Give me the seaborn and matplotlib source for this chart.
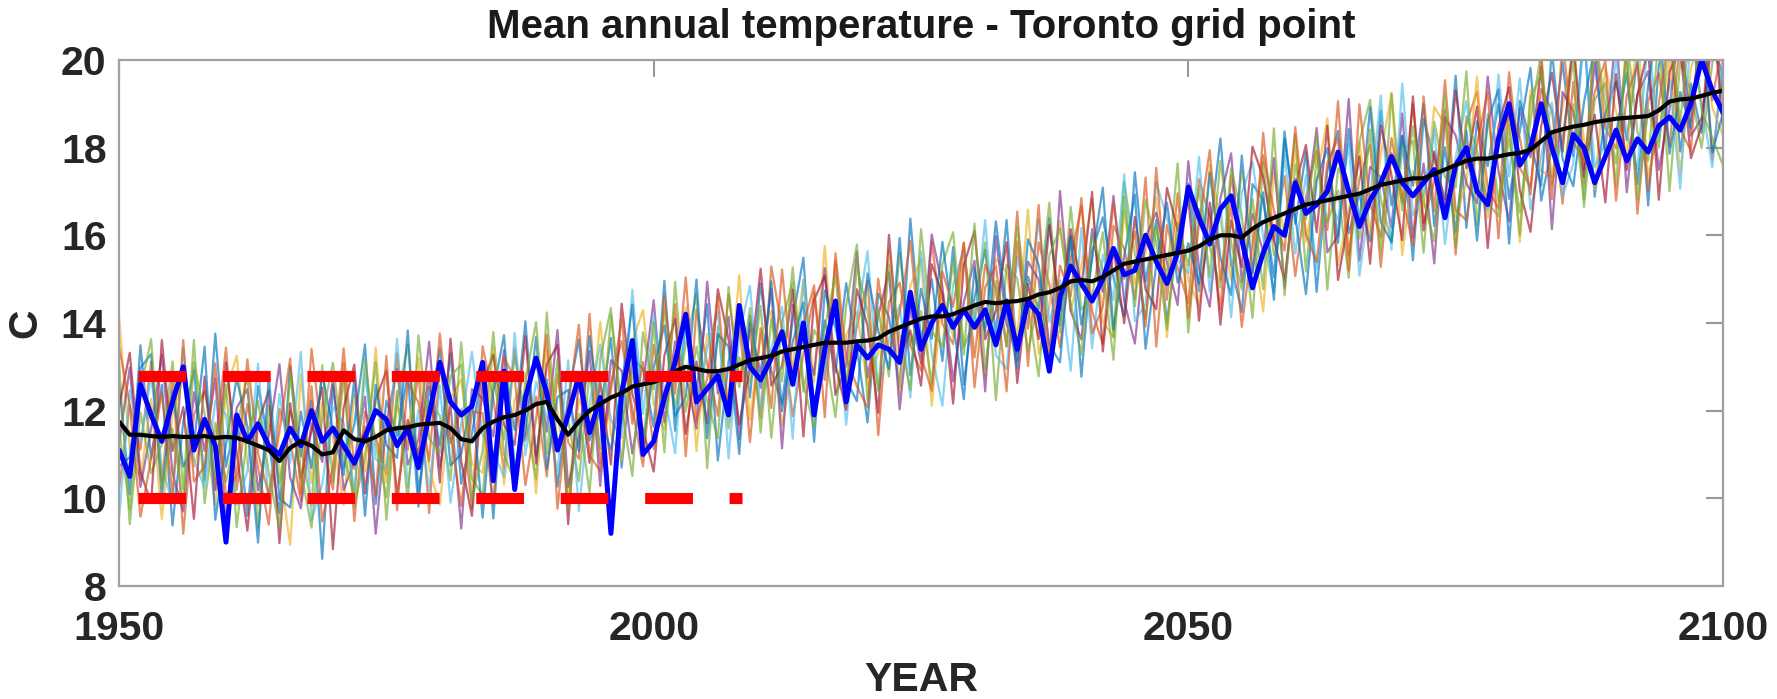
import matplotlib
matplotlib.use('Agg')
import matplotlib.pyplot as plt
import numpy as np
import pandas as pd
import seaborn as sns

years = list(range(1950, 2101))

# ensemble mean (black)
ens_mean = [
    11.75, 11.45, 11.45, 11.42, 11.40, 11.42, 11.40, 11.40, 11.42, 11.38,
    11.40, 11.38, 11.30, 11.20, 11.10, 10.85, 11.15, 11.30, 11.20, 11.00,
    11.05, 11.55, 11.35, 11.30, 11.40, 11.55, 11.60, 11.62, 11.68, 11.70,
    11.72, 11.60, 11.35, 11.30, 11.60, 11.75, 11.85, 11.90, 12.00, 12.15,
    12.20, 11.80, 11.45, 11.75, 12.00, 12.15, 12.30, 12.40, 12.55, 12.60,
    12.65, 12.75, 12.90, 13.00, 12.95, 12.90, 12.90, 12.95, 13.05, 13.15,
    13.20, 13.25, 13.35, 13.40, 13.45, 13.50, 13.55, 13.55, 13.55, 13.58,
    13.60, 13.65, 13.80, 13.90, 14.00, 14.10, 14.15, 14.15, 14.20, 14.30,
    14.40, 14.48, 14.45, 14.48, 14.50, 14.55, 14.65, 14.70, 14.80, 14.95,
    14.98, 14.95, 15.05, 15.20, 15.35, 15.40, 15.45, 15.50, 15.55, 15.60,
    15.65, 15.75, 15.90, 16.00, 16.00, 15.95, 16.15, 16.30, 16.40, 16.50,
    16.60, 16.70, 16.75, 16.80, 16.85, 16.90, 16.95, 17.05, 17.15, 17.20,
    17.25, 17.30, 17.30, 17.40, 17.50, 17.60, 17.70, 17.75, 17.75, 17.80,
    17.85, 17.88, 17.95, 18.15, 18.35, 18.42, 18.48, 18.52, 18.58, 18.62,
    18.66, 18.68, 18.70, 18.72, 18.85, 19.05, 19.10, 19.12, 19.18, 19.25,
    19.30]

# single run highlighted in blue
blue_run = [
    11.1, 10.5, 12.6, 11.9, 11.3, 12.2, 13.0, 11.1, 11.8, 11.2,
    9.0, 11.9, 11.3, 11.7, 11.2, 11.0, 11.6, 11.2, 12.0, 11.3,
    11.6, 11.2, 10.8, 11.4, 12.0, 11.8, 11.2, 11.6, 10.7, 11.9,
    13.1, 12.2, 11.9, 12.1, 13.1, 10.4, 12.9, 10.2, 12.3, 13.2,
    12.4, 11.1, 11.9, 12.8, 11.5, 12.3, 9.2, 12.4, 13.6, 11.0,
    11.3, 12.3, 13.1, 14.2, 12.2, 12.5, 12.8, 11.9, 14.4, 13.0,
    12.7, 13.2, 13.8, 12.6, 14.0, 11.9, 13.4, 14.5, 12.2, 13.5,
    13.2, 13.5, 13.4, 13.1, 14.7, 13.4, 14.0, 14.4, 13.9, 14.3,
    13.9, 14.3, 13.5, 14.5, 13.4, 14.5, 14.2, 12.9, 14.6, 15.3,
    14.9, 14.5, 15.0, 15.7, 15.1, 15.2, 16.0, 15.4, 14.9, 15.6,
    17.1, 16.4, 15.8, 16.6, 16.9, 15.9, 14.8, 15.6, 16.2, 16.0,
    17.2, 16.5, 16.7, 17.0, 17.9, 17.0, 16.2, 16.8, 17.2, 17.8,
    17.2, 16.9, 17.2, 17.5, 16.4, 17.6, 18.0, 17.0, 16.7, 18.2,
    19.0, 17.6, 18.0, 19.0, 18.0, 17.2, 18.3, 18.0, 17.2, 17.8,
    18.4, 17.7, 18.2, 17.9, 18.5, 18.7, 18.4, 19.0, 20.0, 19.3,
    18.8]

# ensemble member departures from the mean, in steps of 0.17 C
anom_step = 0.17
member_anoms = {
    'm1': [5, -8, 12, -3, 7, -12, 2, 9, -6, 14, -4, 3, -10, 8, 1, -7, 11, -2, 6, -14,
           9, -5, 2, 13, -9, 4, -1, 7, -11, 5, -3, 10, -6, 1, 8, -13, 6, -2, 12, -7,
           3, -9, 5, 11, -4, -1, 8, -10, 4, 2, -6, 13, -8, 6, -3, 9, -12, 1, 7, -5,
           10, -2, -7, 4, 12, -9, 3, -4, 8, -1, -11, 6, 2, -8, 14, -3, 5, -6, 9, -10,
           1, 7, -4, 11, -8, 3, -2, 10, -5, 6, -13, 4, 8, -1, -7, 12, -3, 5, -9, 2,
           9, -6, 1, 13, -4, -10, 6, 3, -8, 11, -2, 7, -12, 4, 9, -5, 0, -7, 10, -3,
           6, -11, 8, 2, -4, 12, -9, 5, -1, 7, -6, 3, 11, -8, -2, 9, -4, 13, -10, 1,
           5, -3, 8, -12, 6, 10, -7, 2, -5, 9, -1],
    'm2': [-9, 4, -2, 10, -6, 8, -13, 3, 6, -1, 12, -7, 5, -3, -10, 7, 1, -8, 13, 2,
           -5, 9, -11, 4, 0, -6, 10, -3, 7, -12, 8, -2, 4, -9, 11, 3, -7, 9, -4, 1,
           -10, 6, -1, -5, 13, -8, 2, 7, -3, -11, 5, -4, 9, -12, 8, 1, -6, 10, -2, 4,
           -8, 12, 3, -9, -1, 7, -5, 11, -6, 2, 8, -13, 4, 6, -3, -7, 10, -1, -4, 9,
           -11, 2, 5, -6, 12, -9, 7, 1, -8, 3, 10, -4, -9, 6, 2, -5, 11, -12, 4, -2,
           -7, 9, 3, -10, 8, -1, -6, 12, -3, 5, -9, 1, 7, -4, 13, -8, 2, 6, -11, 4,
           -3, 10, -6, -1, 8, -12, 5, 9, -4, -7, 11, -2, -5, 7, 3, -10, 6, -8, 12, -1,
           -4, 9, -13, 2, 5, -6, 8, -3, 11, -9, 3],
    'm3': [14, -2, -6, 5, -11, 3, 8, -4, 1, -9, 6, 11, -3, -8, 4, -1, -13, 9, -5, 7,
           2, -10, 6, -4, 12, -7, 3, -1, 9, -6, -11, 4, 8, -3, -6, 10, -9, 2, 5, -12,
           7, 1, -8, 3, -2, 11, -5, -9, 6, 10, -3, -7, 2, 8, -11, 5, -1, -4, 12, -8,
           3, 6, -10, -2, 9, -5, 13, -7, 1, 4, -6, -2, 11, -9, 5, 8, -12, 3, -3, 7,
           -1, -10, 6, 4, -5, 12, -8, -2, 9, -4, 2, 11, -6, -9, 7, -3, 1, 8, -11, 5,
           -4, -8, 10, 2, -6, 9, -1, -12, 6, -3, 8, -5, 3, 11, -9, -2, 7, -6, 4, 12,
           -10, 1, -4, 9, 6, -7, -3, 11, -8, 2, 5, -12, 8, -4, -6, 3, 10, -2, -9, 7,
           1, -5, 12, -8, -3, 6, -10, 4, 9, -2, -6],
    'm4': [-3, 9, -7, 1, 11, -5, -10, 6, -2, 8, -12, 4, 7, -6, 2, 13, -4, -9, 3, -1,
           10, -8, -3, 6, -13, 1, 8, -5, -2, 11, -6, 3, -12, 7, 4, -2, 9, -10, 1, 6,
           -4, 12, -7, -2, 8, -11, 5, 3, -9, 0, 11, -6, 4, -1, -8, 12, -3, 7, -10, 5,
           -2, 9, -13, 6, 1, -4, 10, -7, -3, 12, -5, 3, 8, -11, 2, -6, 11, 4, -9, 1,
           6, -12, 9, -3, -7, 5, 2, -10, 13, -4, -8, 7, -2, 10, -5, -11, 3, 6, -1, -7,
           12, -3, -9, 5, 11, -6, 2, -4, 8, -10, 4, -1, 10, -7, -5, 13, -9, 3, 1, -6,
           9, -8, 2, -12, 7, 4, -3, -6, 11, -2, -9, 6, -1, 10, -13, 5, 2, -7, 8, -4,
           12, -10, 3, 6, -8, -1, 11, -5, -3, 7, 2],
    'm5': [8, -12, 3, -5, -1, 10, -7, 13, -9, 2, -6, 1, 9, -11, 6, -3, 5, -1, -8, 12,
           -4, 7, -9, -2, 10, -12, 4, 11, -6, 3, 1, -7, 13, -5, -9, 6, -3, 8, -1, -10,
           12, -4, 2, -8, 5, -6, 11, -2, -12, 7, -1, 9, -5, 3, 10, -13, 6, -8, 1, -3,
           7, -11, 4, 9, -6, 2, -1, -10, 5, 13, -8, 4, -6, 10, -3, 1, -9, 7, 11, -5,
           -2, 8, -13, 5, 3, -7, -1, 12, -6, 10, -4, -2, 6, -9, 11, 1, -8, 4, -3, 12,
           -11, 5, -1, -7, 9, 3, -12, 8, -5, -2, 10, -9, 6, -3, 1, -11, 7, 12, -2, -8,
           4, 5, -10, 7, -1, -3, 12, -9, 6, -6, 2, -8, 4, 12, -7, -1, 9, -11, 3, 5,
           -9, 11, -2, -6, 10, -12, 5, 1, -7, 4, 9],
    'm6': [-13, 6, -1, 8, -4, -9, 12, -3, -7, 5, 3, -9, -4, 11, -7, 9, -2, 12, -10, -4,
           6, 1, -7, 9, -3, -5, 12, -8, 2, -9, 5, -10, 2, 12, -1, -4, -8, 11, -6, 3,
           -2, -7, 10, -12, 1, 8, -3, -6, 13, -4, 9, -2, -11, 7, -5, 3, 8, -12, 4, 10,
           -7, 1, 6, -12, 9, -8, -4, 5, -11, 3, 12, -7, -1, 3, -10, 9, -5, -12, 4, 8,
           -3, 11, -7, -9, 6, -2, 10, -4, 1, -12, 7, -9, 3, -4, 12, -8, -6, 10, 5, -1,
           -3, 12, -7, 4, -11, 6, 9, -2, -10, 8, -6, 4, -9, 1, -3, 7, -11, -1, 12, -9,
           13, -5, -2, 6, -10, 1, 8, -4, -7, 11, -3, 10, -8, -2, 4, -9, -5, 12, -6, -3,
           8, -2, -7, 11, -4, 3, -12, 9, -1, -10, 5],
    'm7': [2, 11, -5, -9, 13, -2, 4, -11, 8, -7, 10, -2, -12, 3, 8, -11, 6, -5, 2, 9,
           -13, 3, 10, -7, 5, 8, -9, 1, -4, 7, -8, 12, -3, -10, 6, 9, -1, -4, 10, -8,
           5, 10, -12, 6, -7, 3, -9, 12, -1, -6, -12, 3, 7, -9, 1, -7, 11, 4, -8, -1,
           12, -4, -2, 8, -12, 6, 9, -3, -9, 7, 2, -10, 13, -4, -1, -9, 7, 3, -12, 6,
           10, -5, -1, 8, -11, 2, -6, 9, -3, 7, -1, 12, -10, 3, -8, 6, -4, -7, 9, 3,
           7, -10, 5, -12, 2, -4, 11, 6, -3, -9, 3, 8, -4, 10, -11, -3, 5, -10, 8, 1,
           -8, 11, -7, 3, -5, 10, -1, 7, -12, 4, 9, -5, -11, 2, 8, -3, 12, -6, 1, -11,
           6, -7, 3, 9, -12, 4, 7, -8, -4, 12, -5],
    'm8': [-6, -3, 9, 11, -8, 6, -4, -1, 12, -11, -1, 8, 2, -13, 10, -5, -8, 4, -3, 11,
           3, -6, 8, -10, 7, -2, -4, 13, -9, 1, 10, -5, -2, 6, -12, 4, 11, -7, -3, 9,
           -9, 3, 6, -4, 10, -2, -7, 1, 11, -8, 2, 7, -6, -4, 12, -9, 5, 3, -12, 6,
           -4, 10, -8, 1, 6, -13, 7, 2, -5, -8, 9, 1, -5, 12, -7, 4, -3, 10, -1, -12,
           5, -4, 11, -1, -9, 8, 4, -7, -10, 6, -6, 3, 12, -8, 1, 9, -12, -1, 7, -4,
           1, -5, 9, -3, -8, 11, -6, 4, -11, 10, -1, -12, 3, 7, -6, 9, -4, 11, -5, -8,
           6, -1, 10, -7, 3, -9, 4, -11, 5, 9, -12, 7, 1, -6, 11, -4, -8, 3, 10, -5,
           -2, 6, -9, 4, 13, -7, 1, -4, 11, -8, -3],
    'm9': [10, 4, -11, -3, 6, -8, 13, -6, -4, 10, -8, -5, 11, -1, -6, 4, 12, -7, 8, -9,
           -2, 11, -4, 2, -8, 10, -11, 6, 3, -5, 12, -1, -9, 4, 2, -11, 8, 5, -10, -2,
           9, -12, 4, 13, -6, -9, 1, 10, -5, 3, -9, 11, -3, 12, -7, -1, 10, -6, 6, -11,
           4, -7, 11, -4, 3, 8, -10, 12, -2, -6, -9, 8, -3, 2, 11, -5, -10, 6, 1, 9,
           -7, 5, 2, -12, 8, -4, 12, -9, 3, -2, 11, -7, -4, 9, -2, 4, -9, 12, -6, 8,
           -9, 3, 12, -6, 4, -12, -2, 9, 1, -5, 11, -4, -8, 5, 8, -10, 12, -2, -7, 6,
           -2, -9, 11, -5, 12, -6, -8, 2, 9, -11, 7, 2, -6, 11, -9, 12, -2, -5, 4, 8,
           -11, 3, 7, -10, 1, 9, -4, -7, 12, -1, 7],
    'm10': [-1, -10, 6, 13, -7, 1, -9, 10, 3, -5, 7, -12, 1, 6, -3, -9, 10, -4, -11, 5,
            12, -3, -8, 11, -1, -9, 5, -10, 12, -2, -4, 7, 10, -8, -3, 12, -5, -9, 4, 11,
            -7, 8, -10, 1, -11, 6, 12, -4, 2, -9, 8, -10, 12, -6, 3, -4, -9, 11, -3, 7,
            -10, 5, -4, 11, -5, -11, 2, 9, -6, 10, 4, -7, 9, -1, -9, 12, -2, -4, 7, -6,
            11, -9, 3, -6, 10, -1, -11, 5, 8, -3, -10, 6, 1, -12, 9, -6, 8, 2, -10, 4,
            -2, 8, -5, 10, -1, -7, 4, -9, 12, -11, 6, -2, 9, -12, 4, 1, -6, 8, -9, 12,
            -4, 7, -3, -9, 10, -11, 6, 1, -6, -8, 4, -11, 7, 9, -1, -7, 3, -10, 12, 2,
            -6, 8, -11, 1, -5, 10, -3, 11, -2, -6, -10],
}

# red dashed band
band_years = [1951.8, 2008.3]
band_upper = [12.8, 12.8]
band_lower = [10.0, 10.0]

matlab_colors = ['#0072BD', '#D95319', '#EDB120', '#7E2F8E', '#77AC30', '#4DBEEE',
                 '#A2142F', '#0072BD', '#D95319', '#77AC30']

sns.set_style('white')
plt.rcParams['font.family'] = ['Liberation Sans', 'DejaVu Sans']
plt.rcParams['font.weight'] = 'bold'

rows = []
for name, anoms in member_anoms.items():
    for yr, m, a in zip(years, ens_mean, anoms):
        rows.append({'year': yr, 'temp': m + a * anom_step, 'member': name})
ens_df = pd.DataFrame(rows)

fig = plt.figure(figsize=(17.77, 6.99), dpi=100)
ax = fig.add_axes([0.067, 0.1617, 0.9026, 0.7525])

sns.lineplot(data=ens_df, x='year', y='temp', hue='member', palette=matlab_colors,
             estimator=None, legend=False, linewidth=1.6, alpha=0.65, ax=ax)
sns.lineplot(x=years, y=blue_run, color='#0000FF', linewidth=3.6, ax=ax)
sns.lineplot(x=years, y=ens_mean, color='black', linewidth=3.0, ax=ax)

for yvals in (band_upper, band_lower):
    ax.plot(band_years, yvals, color='#FF0000', linewidth=8, linestyle=(0, (4.3, 3.3)),
            dash_capstyle='butt', solid_capstyle='butt')

ax.set_xlim(1950, 2100)
ax.set_ylim(8, 20)
ax.set_xticks([1950, 2000, 2050, 2100])
ax.set_yticks([8, 10, 12, 14, 16, 18, 20])
ax.tick_params(direction='in', length=12, width=1.5, color='#999999',
               top=True, right=True, labelsize=29.5)
ax.tick_params(axis='x', pad=17)
ax.tick_params(axis='y', pad=9)
for lab in ax.get_xticklabels() + ax.get_yticklabels():
    lab.set_fontweight('bold')
    lab.set_color('#262626')
for sp in ax.spines.values():
    sp.set_color('#a0a0a0')
    sp.set_linewidth(1.6)

ax.set_title('Mean annual temperature - Toronto grid point', fontsize=29,
             fontweight='bold', color='#1a1a1a', y=1.0, pad=16)
ax.set_xlabel('YEAR', fontsize=29.5, fontweight='bold', color='#262626', labelpad=10)
ax.set_ylabel('C', fontsize=29.5, fontweight='bold', color='#262626', labelpad=12)

fig.savefig('out.png', dpi=100)
